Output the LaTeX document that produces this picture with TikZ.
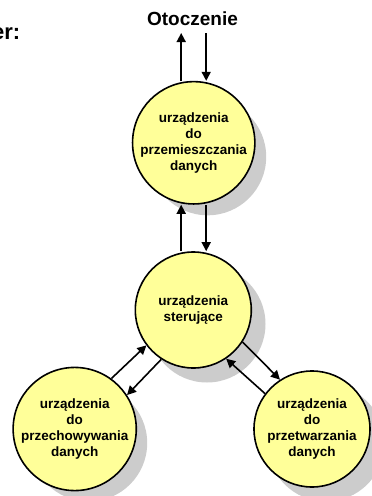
\documentclass[tikz,border=0pt]{standalone}
\usepackage{fontspec}
\setmainfont{Liberation Sans}
\usetikzlibrary{arrows.meta}
\definecolor{cfill}{RGB}{255,255,153}
\definecolor{cshadow}{RGB}{204,204,204}
\begin{document}
\begin{tikzpicture}[x=1pt,y=-1pt,
  dev/.style={circle,draw=black,line width=1.6pt,fill=cfill,minimum size=116pt,inner sep=0pt,
    align=center,font=\bfseries\fontsize{13.5}{16}\selectfont},
  shd/.style={fill=cshadow},
  conn/.style={line width=1.6pt,-{Triangle[length=9pt,width=9pt]}}
]
\useasboundingbox (0,0) rectangle (372,496);
% shadows
\fill[shd] (207.7,156.8) circle[radius=58.5pt];
\fill[shd] (207,324) circle[radius=58.5pt];
\fill[shd] (88.7,443) circle[radius=58.5pt];
\fill[shd] (326,443) circle[radius=58.5pt];
% nodes
\node[dev] (t) at (193.7,142.8) {urządzenia\\do\\przemieszczania\\danych};
\node[dev] (m) at (193.3,310) {urządzenia\\sterujące};
\node[dev] (bl) at (74.7,429) {urządzenia\\do\\przechowywania\\danych};
\node[dev] (br) at (312,429) {urządzenia\\do\\przetwarzania\\danych};
\node[font=\bfseries\fontsize{19}{22}\selectfont,anchor=base,inner sep=0pt] (env) at (192.5,25.5) {Otoczenie};
\node[font=\bfseries\fontsize{22}{26}\selectfont,anchor=base east,inner sep=0pt] (lbl) at (20.5,39.5) {er:};
\coordinate (up) at (181.2,33);
\coordinate (dn) at (206.2,33);
% connectors
\draw[conn] (t.north -| up) -- (up);
\draw[conn] (dn) -- (t.north -| dn);
\draw[conn] (m.north -| up) -- (t.south -| up);
\draw[conn] (t.south -| dn) -- (m.north -| dn);
\draw[conn] (bl.54) -- (m.217);
\draw[conn] (m.237) -- (bl.33);
\draw[conn] (m.327) -- (br.123);
\draw[conn] (br.143) -- (m.304);
\end{tikzpicture}
\end{document}
